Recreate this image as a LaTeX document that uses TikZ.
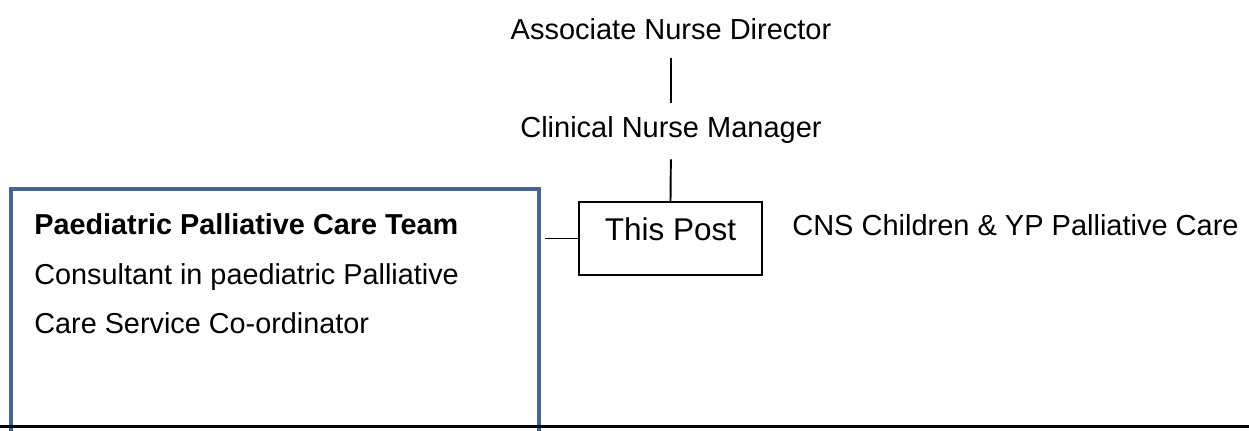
\documentclass[tikz,border=0pt]{standalone}
\usepackage{fontspec}
\setmainfont{Liberation Sans}
\usepackage{xcolor}
\usepackage{tikz}
\usetikzlibrary{positioning}
\definecolor{teamblue}{RGB}{70,100,145}

\begin{document}
\begin{tikzpicture}[x=0.02cm,y=-0.02cm,
    role/.style={font=\fontsize{16.5pt}{20pt}\selectfont, anchor=base, inner sep=0pt, text=black},
    member/.style={font=\fontsize{16.4pt}{19pt}\selectfont, anchor=base west, inner sep=0pt, text=black},
    postbox/.style={draw, line width=1.1pt, rectangle, minimum width=3.66cm, minimum height=1.46cm,
        text height=0.72em, text depth=0.44em, font=\fontsize{17.9pt}{21pt}\selectfont},
    teambox/.style={draw=teamblue, line width=2.4pt, rectangle, anchor=north west,
        minimum width=10.56cm, minimum height=5.6cm, inner sep=0pt},
    link/.style={line width=1.1pt}]
                        \clip (0,0) rectangle (1249,430);
                        \node[role] (director) at (671,39) {Associate Nurse Director};
                        \node[role] (manager) at (671,137) {Clinical Nurse Manager};
                        \node[postbox] (post) at (670.5,238.5) {This Post};
                        \node[role, anchor=base west] (cns) at (792,235) {CNS Children \& YP Palliative Care};
                        \node[teambox] (team) at (9,187) {};
                        \node[member, font=\fontsize{16.4pt}{19pt}\selectfont\bfseries] (teamname) at (34,234) {Paediatric Palliative Care Team};
                        \node[member] (consultant) at (34,284) {Consultant in paediatric Palliative};
                        \node[member] (coordinator) at (34,333) {Care Service Co-ordinator};
                        \coordinate (rulestart) at (0,426.5);
                        \coordinate (ruleend) at (1249,426.5);
                        \draw [link, shorten <=0.36cm, shorten >=0.26cm] (director.south) -- (manager.north);
                        \draw [link, shorten <=0.32cm] (manager.south) -- (post.north);
                        \draw [link, shorten >=0.08cm] (post.west) -- (post.west -| team.east);
                        \draw [line width=2pt] (rulestart) -- (ruleend);
                        \end{tikzpicture}
\end{document}
